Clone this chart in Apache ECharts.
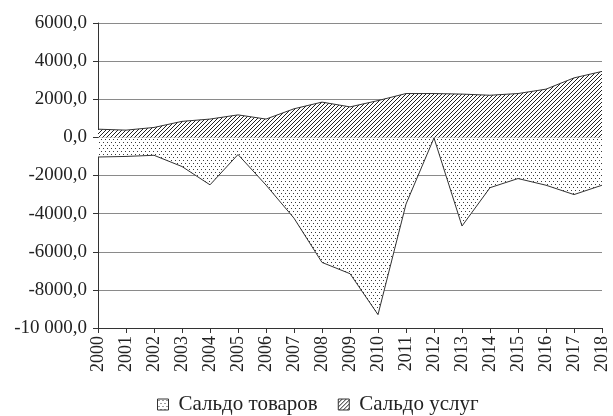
<!DOCTYPE html>
<html>
<head>
<meta charset="utf-8">
<script src="https://cdn.jsdelivr.net/npm/echarts@6/dist/echarts.min.js"></script>
<style>
  html, body { margin: 0; padding: 0; background: #fff; }
  #chart { width: 613px; height: 416px; }
</style>
</head>
<body>
<div id="chart"></div>
<script>
const years = ['2000','2001','2002','2003','2004','2005','2006','2007','2008','2009',
  '2010','2011','2012','2013','2014','2015','2016','2017','2018'];
// Сальдо товаров
const goods = [-1030, -1000, -940, -1530, -2490, -900, -2500, -4240, -6560, -7150,
  -9300, -3500, -30, -4650, -2640, -2160, -2510, -3000, -2510];
// Сальдо услуг
const services = [430, 380, 520, 840, 960, 1180, 960, 1500, 1850, 1600,
  1930, 2300, 2300, 2270, 2210, 2300, 2530, 3120, 3460];
const yTicks = { min: -10000, max: 6000, step: 2000 };

// точечная заливка
function dotPattern() {
  const c = document.createElement('canvas');
  c.width = 8; c.height = 6;
  const g = c.getContext('2d');
  g.fillStyle = '#fff';
  g.fillRect(0, 0, 8, 6);
  g.fillStyle = '#3a3a3a';
  g.fillRect(1, 1, 1, 1);
  g.fillRect(5, 1, 1, 1);
  g.fillRect(3, 4, 1, 1);
  g.fillRect(7, 4, 1, 1);
  return { image: c, repeat: 'repeat' };
}
// штриховка ///
function hatchPattern() {
  const s = 4;
  const c = document.createElement('canvas');
  c.width = s; c.height = s;
  const g = c.getContext('2d');
  g.fillStyle = '#fff';
  g.fillRect(0, 0, s, s);
  g.strokeStyle = '#222';
  g.lineWidth = 1;
  g.beginPath();
  g.moveTo(0, s); g.lineTo(s, 0);
  g.moveTo(-1, 1); g.lineTo(1, -1);
  g.moveTo(s - 1, s + 1); g.lineTo(s + 1, s - 1);
  g.stroke();
  return { image: c, repeat: 'repeat' };
}

const dots = dotPattern();
const hatch = hatchPattern();
const font = '"Liberation Serif", "DejaVu Serif", serif';

function fmt(v) {
  let s = String(Math.abs(v));
  if (Math.abs(v) >= 10000) s = s.replace(/(\d+)(\d{3})$/, '$1 $2');
  return (v < 0 ? '-' : '') + s + ',0';
}

const chart = echarts.init(document.getElementById('chart'));
chart.setOption({
  animation: false,
  backgroundColor: '#fff',
  grid: { left: 98, right: 11, top: 23, bottom: 88 },
  legend: {
    top: 389,
    left: 152,
    icon: 'rect',
    itemWidth: 11,
    itemHeight: 11,
    itemGap: 20,
    textStyle: { fontFamily: font, fontSize: 21, color: '#222', padding: [0, 0, 0, 5] },
    data: [
      { name: 'Сальдо товаров', itemStyle: { color: dots, borderColor: '#333', borderWidth: 1 } },
      { name: 'Сальдо услуг', itemStyle: { color: hatch, borderColor: '#333', borderWidth: 1 } }
    ]
  },
  xAxis: {
    type: 'category',
    data: years,
    boundaryGap: false,
    axisLine: { onZero: false, lineStyle: { color: '#333' } },
    axisTick: { show: true, interval: 0, length: 5, lineStyle: { color: '#333' } },
    axisLabel: { rotate: 90, interval: 0, margin: 8, fontFamily: font, fontSize: 18, color: '#222' },
    splitLine: { show: false }
  },
  yAxis: {
    type: 'value',
    min: yTicks.min,
    max: yTicks.max,
    interval: yTicks.step,
    axisLine: { show: true, lineStyle: { color: '#333' } },
    axisTick: { show: true, length: 5, lineStyle: { color: '#333' } },
    axisLabel: { formatter: fmt, margin: 11, fontFamily: font, fontSize: 19, color: '#222' },
    splitLine: { lineStyle: { color: '#8a8a8a', width: 1 } }
  },
  series: [
    {
      name: 'Сальдо товаров',
      type: 'line',
      data: goods,
      symbol: 'none',
      lineStyle: { color: '#333', width: 1 },
      itemStyle: { color: dots },
      areaStyle: { color: dots, opacity: 1 },
      z: 2
    },
    {
      name: 'Сальдо услуг',
      type: 'line',
      data: services,
      symbol: 'none',
      lineStyle: { color: '#333', width: 1 },
      itemStyle: { color: hatch },
      areaStyle: { color: hatch, opacity: 1 },
      z: 2
    }
  ]
});
</script>
</body>
</html>
